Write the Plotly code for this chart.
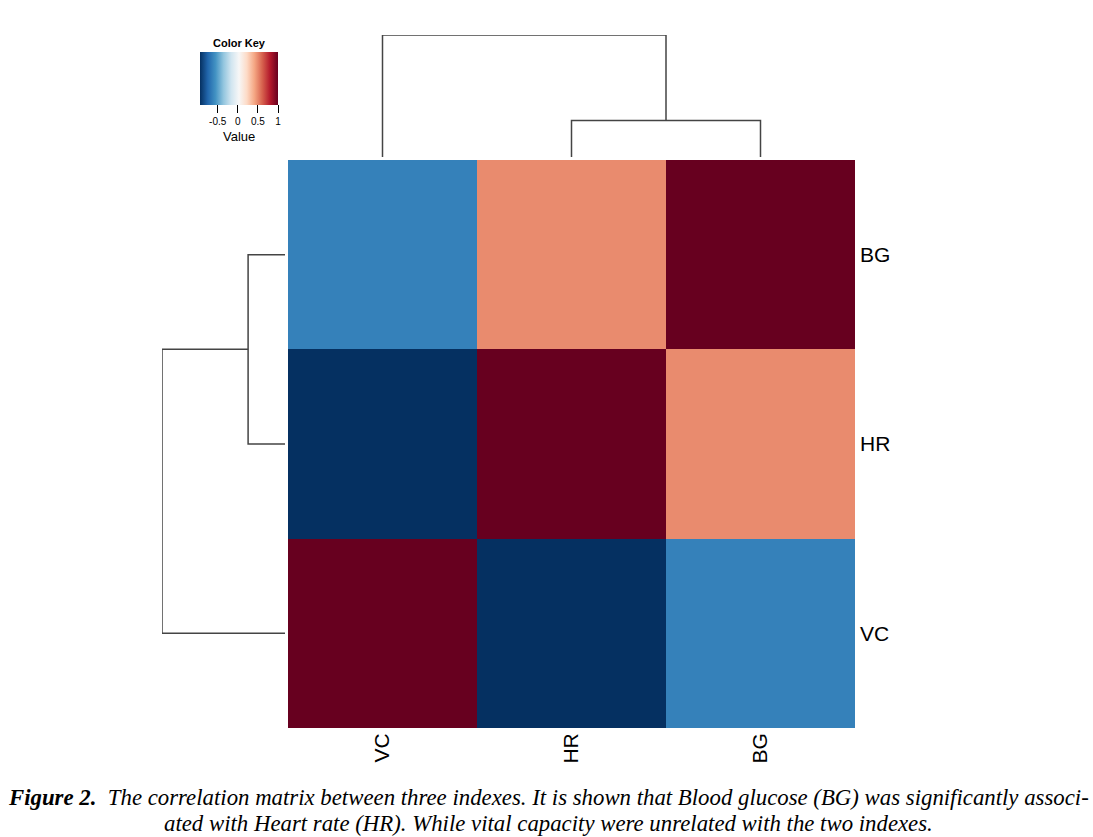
import plotly.graph_objects as go
import plotly.express as px

W, H = 1093, 837

# ---- data ----
labels = ["VC", "HR", "BG"]            # column order (left->right) and row order (bottom->top)
corr = [                               # corr[row][col], rows bottom->top: VC, HR, BG
    [1.00, -0.94, -0.63],              # VC
    [-0.94, 1.00, 0.49],               # HR
    [-0.63, 0.49, 1.00],               # BG
]
zmin, zmax = -0.94, 1.0
key_ticks = [-0.5, 0, 0.5, 1]
key_ticktext = ["-0.5", "0", "0.5", "1"]
# dendrogram merge heights
merge_heights = [0.6, 2.0]             # HR+BG, then VC+(HR,BG)

caption1 = ("<b>Figure 2.</b>  The correlation matrix between three indexes. It is shown that Blood glucose (BG) "
            "was significantly associ-")
caption2 = "ated with Heart rate (HR). While vital capacity were unrelated with the two indexes."

# ---- helpers ----
def px_x(p):
    return p / W

def px_y(p):
    return 1 - p / H

rdbu = list(reversed(px.colors.diverging.RdBu))
cscale = [[i / (len(rdbu) - 1), c] for i, c in enumerate(rdbu)]

pos = {lab: i for i, lab in enumerate(labels)}
h1, h2 = merge_heights
links = [
    ((pos["HR"], 0.0), (pos["BG"], 0.0), h1),
    ((pos["VC"], 0.0), ((pos["HR"] + pos["BG"]) / 2, h1), h2),
]

fig = go.Figure()

fig.add_trace(go.Heatmap(
    z=corr, x=labels, y=labels, zmin=zmin, zmax=zmax, colorscale=cscale,
    xaxis="x", yaxis="y", hoverinfo="z",
    colorbar=dict(
        orientation="h", x=px_x(200), xanchor="left", y=px_y(52), yanchor="top",
        len=78, lenmode="pixels", thickness=53, thicknessmode="pixels",
        tickvals=key_ticks, ticktext=key_ticktext, ticks="outside", ticklen=8,
        tickcolor="black", tickwidth=1,
        tickfont=dict(family="Liberation Sans", size=10, color="black"),
        outlinewidth=0, xpad=0, ypad=0,
    ),
))

line_style = dict(color="#444444", width=1.5)
for (a, ha), (b, hb), h in links:
    fig.add_trace(go.Scatter(x=[a, a, b, b], y=[ha, h, h, hb], mode="lines",
                             line=line_style, xaxis="x2", yaxis="y2",
                             showlegend=False, hoverinfo="skip"))
    fig.add_trace(go.Scatter(x=[ha, h, h, hb], y=[a, a, b, b], mode="lines",
                             line=line_style, xaxis="x3", yaxis="y3",
                             showlegend=False, hoverinfo="skip"))

hm_x = [px_x(288), px_x(855)]
hm_y = [px_y(728), px_y(160)]

cap_font = dict(family="Liberation Serif", size=22.8, color="black", style="italic")

fig.update_layout(
    width=W, height=H, margin=dict(l=0, r=0, t=0, b=0),
    paper_bgcolor="white", plot_bgcolor="white",
    xaxis=dict(domain=hm_x, type="category", tickangle=-90, showgrid=False, zeroline=False,
               ticks="", tickfont=dict(family="Liberation Sans", size=21, color="black"),
               anchor="y", showline=False),
    yaxis=dict(domain=hm_y, type="category", side="right", showgrid=False, zeroline=False,
               ticks="", tickfont=dict(family="Liberation Sans", size=21, color="black"),
               anchor="x", showline=False, ticklabelstandoff=4),
    xaxis2=dict(domain=hm_x, range=[-0.5, 2.5], visible=False, anchor="y2"),
    yaxis2=dict(domain=[px_y(157), px_y(35)], range=[0, h2], visible=False, anchor="x2"),
    xaxis3=dict(domain=[px_x(162), px_x(285)], range=[h2, 0], visible=False, anchor="y3"),
    yaxis3=dict(domain=hm_y, range=[-0.5, 2.5], visible=False, anchor="x3"),
    annotations=[
        dict(text="<b>Color Key</b>", x=px_x(239), y=px_y(43), xref="paper", yref="paper",
             xanchor="center", yanchor="middle", showarrow=False,
             font=dict(family="Liberation Sans", size=11, color="black")),
        dict(text="Value", x=px_x(239), y=px_y(136), xref="paper", yref="paper",
             xanchor="center", yanchor="middle", showarrow=False,
             font=dict(family="Liberation Sans", size=13, color="black")),
        dict(text=caption1, x=px_x(548), y=px_y(797), xref="paper", yref="paper",
             xanchor="center", yanchor="middle", showarrow=False, font=cap_font),
        dict(text=caption2, x=px_x(548), y=px_y(823), xref="paper", yref="paper",
             xanchor="center", yanchor="middle", showarrow=False, font=cap_font),
    ],
)

fig.write_html("out.html", config={"displayModeBar": False},
               post_script="document.body.style.margin='0px';")
